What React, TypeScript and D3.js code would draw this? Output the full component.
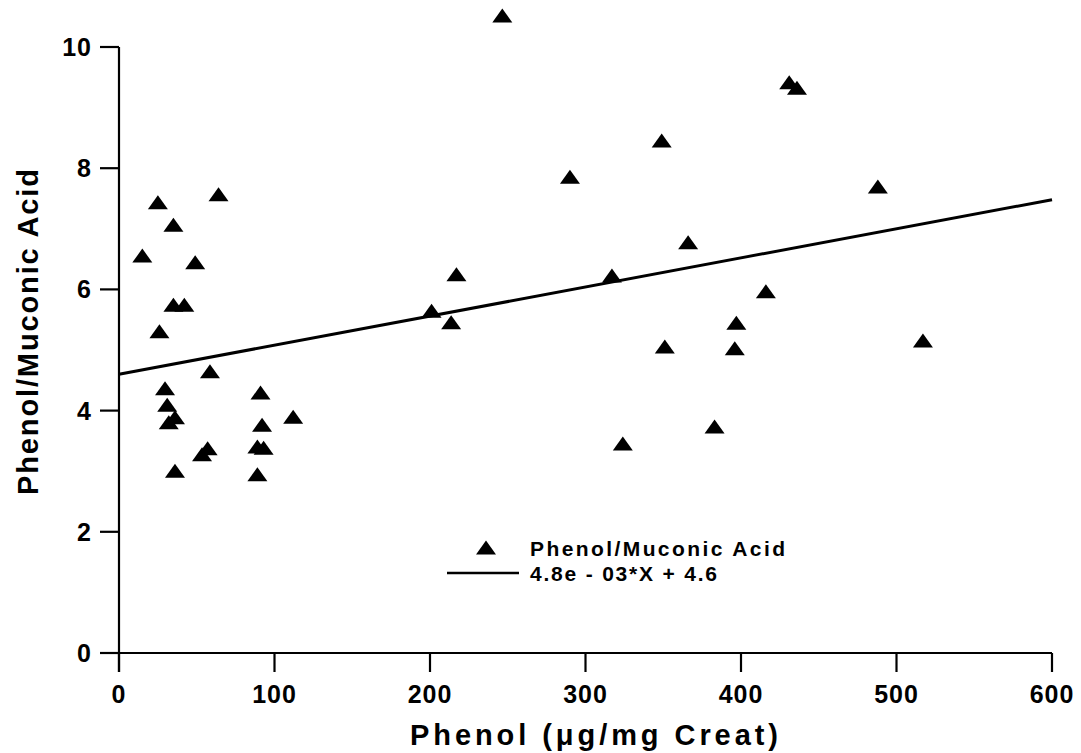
import React from "react";
import * as d3 from "d3";

// Phenol excretion (µg/mg creatinine) and the phenol/muconic acid ratio per subject
const phenol = [
  15, 25, 35, 49, 64, 26, 35, 42, 58.5, 29.6, 31, 36, 32, 91, 92, 112, 89, 93, 57, 53.4, 36, 89,
  201, 213.6, 217, 246.5, 290, 317, 324, 349, 351, 366, 383, 396, 397, 416, 431, 436, 488, 517,
];
const ratio = [
  6.55, 7.43, 7.06, 6.44, 7.56, 5.3, 5.74, 5.74, 4.64, 4.36, 4.09, 3.88, 3.8, 4.29, 3.76, 3.89, 3.4, 3.38, 3.37, 3.27, 3.0, 2.94,
  5.64, 5.45, 6.24, 10.51, 7.85, 6.22, 3.45, 8.45, 5.05, 6.77, 3.73, 5.02, 5.44, 5.96, 9.41, 9.32, 7.69, 5.15,
];

// Least-squares fit reported in the legend
const slope = 4.8e-3;
const intercept = 4.6;

const xTicks = [0, 100, 200, 300, 400, 500, 600];
const yTicks = [0, 2, 4, 6, 8, 10];

const seriesLabel = "Phenol/Muconic Acid";
const fitLabel = "4.8e - 03*X + 4.6";
const xTitle = "Phenol (\u03bcg/mg Creat)";
const yTitle = "Phenol/Muconic Acid";

const W = 1081;
const H = 753;
const font = "'Liberation Sans', Arial, Helvetica, sans-serif";

export default function App() {
  const x = d3.scaleLinear().domain([0, 600]).range([119, 1052]);
  const y = d3.scaleLinear().domain([0, 10]).range([653, 47]);
  const tick = 19;

  const tri = "M0,-7.5L10,6.5L-10,6.5Z";
  const fitLine = d3
    .line<number>()
    .x((d) => x(d))
    .y((d) => y(intercept + slope * d));

  const txt = {
    fontFamily: font,
    fontWeight: 700,
    fill: "#000",
  } as const;

  return (
    <svg
      width={W}
      height={H}
      viewBox={`0 0 ${W} ${H}`}
      style={{ position: "absolute", left: 0, top: 0, background: "#fff" }}
    >
      <rect width={W} height={H} fill="#fff" />

      {/* axes */}
      <g stroke="#000" strokeWidth={2.2} fill="none">
        <line x1={x(0)} x2={x(0)} y1={y(10)} y2={y(0) + tick} />
        <line x1={x(0) - tick} x2={x(600)} y1={y(0)} y2={y(0)} />
        {yTicks.map((t) => (
          <line key={`yt${t}`} x1={x(0) - tick} x2={x(0)} y1={y(t)} y2={y(t)} />
        ))}
        {xTicks.map((t) => (
          <line key={`xt${t}`} x1={x(t)} x2={x(t)} y1={y(0)} y2={y(0) + tick} />
        ))}
      </g>

      {/* tick labels */}
      {yTicks.map((t) => (
        <text
          key={`yl${t}`}
          x={x(0) - 27}
          y={y(t)}
          dy="0.36em"
          textAnchor="end"
          fontSize={25}
          letterSpacing={1}
          style={txt}
        >
          {t}
        </text>
      ))}
      {xTicks.map((t) => (
        <text
          key={`xl${t}`}
          x={x(t)}
          y={703}
          textAnchor="middle"
          fontSize={25}
          letterSpacing={1}
          style={txt}
        >
          {t}
        </text>
      ))}

      {/* axis titles */}
      <text
        x={594}
        y={745}
        textAnchor="middle"
        fontSize={29}
        textLength={368}
        lengthAdjust="spacing"
        style={txt}
      >
        {xTitle}
      </text>
      <text
        transform={`translate(38,${332}) rotate(-90)`}
        textAnchor="middle"
        fontSize={29}
        textLength={326}
        lengthAdjust="spacing"
        style={txt}
      >
        {yTitle}
      </text>

      {/* regression line */}
      <path d={fitLine([0, 600]) ?? ""} stroke="#000" strokeWidth={3} fill="none" />

      {/* observations */}
      <g fill="#000">
        {phenol.map((p, i) => (
          <path key={i} d={tri} transform={`translate(${x(p)},${y(ratio[i])})`} />
        ))}
      </g>

      {/* legend */}
      <path d={tri} transform="translate(486,548)" fill="#000" />
      <text x={530} y={556} fontSize={21} textLength={255} lengthAdjust="spacing" style={txt}>
        {seriesLabel}
      </text>
      <line x1={447} x2={519} y1={573} y2={573} stroke="#000" strokeWidth={2.5} />
      <text x={530} y={581} fontSize={21} textLength={187} lengthAdjust="spacing" style={txt}>
        {fitLabel}
      </text>
    </svg>
  );
}
